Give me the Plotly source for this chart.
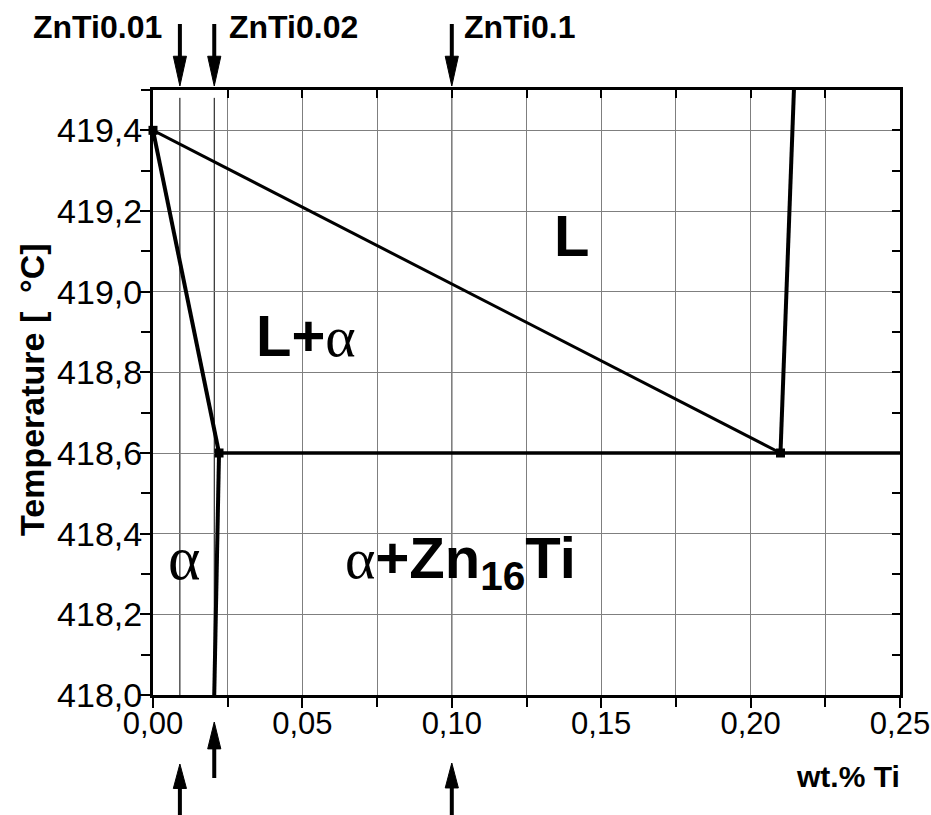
import plotly.graph_objects as go

# Phase boundaries of the Zn-rich corner of the Zn-Ti system (wt.% Ti vs. temperature)
liquidus_x = [0.0, 0.21]
liquidus_t = [419.4, 418.6]

solidus_x = [0.0, 0.0221]
solidus_t = [419.4, 418.6]

solvus_x = [0.0221, 0.0205]
solvus_t = [418.6, 418.0]

eutectic_x = [0.0221, 0.25]
eutectic_t = [418.6, 418.6]

zn16ti_x = [0.21, 0.2145]
zn16ti_t = [418.6, 419.5]

node_x = [0.0, 0.0221, 0.21]
node_t = [419.4, 418.6, 418.6]

# Investigated alloys
sample_names = ["ZnTi0.01", "ZnTi0.02", "ZnTi0.1"]
sample_x = [0.009, 0.0205, 0.1]

x_range = [0.0, 0.25 + 1e-9]
t_range = [418.0, 419.5]

SANS = "Liberation Sans, Arial, sans-serif"
SERIF = "Liberation Serif, Times New Roman, serif"

fig = go.Figure()

fig.add_trace(go.Scatter(x=liquidus_x, y=liquidus_t, mode="lines",
                         line=dict(color="black", width=3), hoverinfo="skip"))
fig.add_trace(go.Scatter(x=solidus_x, y=solidus_t, mode="lines",
                         line=dict(color="black", width=4), hoverinfo="skip"))
fig.add_trace(go.Scatter(x=solvus_x, y=solvus_t, mode="lines",
                         line=dict(color="black", width=4), hoverinfo="skip"))
fig.add_trace(go.Scatter(x=eutectic_x, y=eutectic_t, mode="lines",
                         line=dict(color="black", width=3.5), hoverinfo="skip"))
fig.add_trace(go.Scatter(x=zn16ti_x, y=zn16ti_t, mode="lines",
                         line=dict(color="black", width=4), hoverinfo="skip"))
fig.add_trace(go.Scatter(x=node_x, y=node_t, mode="markers",
                         marker=dict(symbol="square", size=9, color="black"),
                         cliponaxis=False, hoverinfo="skip"))
# second subplot sharing the same frame: carries the top and right axes (inward ticks)
fig.add_trace(go.Scatter(x=eutectic_x, y=eutectic_t, mode="markers", xaxis="x2", yaxis="y2",
                         marker=dict(size=1, opacity=0), hoverinfo="skip"))

grid = "#7f7f7f"
fig.update_layout(
    width=931, height=815,
    margin=dict(l=153, r=31, t=90, b=120, autoexpand=False),
    paper_bgcolor="white", plot_bgcolor="rgba(0,0,0,0)",
    showlegend=False,
    separators=", ",
    xaxis=dict(range=x_range, dtick=0.05, tick0=0, tickformat=".2f",
               domain=[0, 1], anchor="y", automargin=False,
               showgrid=True, gridcolor=grid, gridwidth=1, zeroline=False,
               showline=True, linecolor="black", linewidth=3, mirror=True,
               ticks="outside", ticklen=10, tickwidth=2, tickcolor="black",
               ticklabelstandoff=-11, ticklabeloverflow="allow",
               minor=dict(dtick=0.025, ticks="outside", ticklen=9, tickwidth=2,
                          tickcolor="black", showgrid=True, gridcolor=grid, gridwidth=1),
               tickfont=dict(family=SANS, size=31, color="black")),
    yaxis=dict(range=t_range, dtick=0.2, tick0=418.0, tickformat=".1f",
               domain=[0, 1], anchor="x", automargin=False,
               showgrid=True, gridcolor=grid, gridwidth=1, zeroline=False,
               showline=True, linecolor="black", linewidth=3, mirror=True,
               ticks="outside", ticklen=10, tickwidth=2, tickcolor="black",
               ticklabelstandoff=-9, ticklabeloverflow="allow",
               minor=dict(dtick=0.1, ticks="outside", ticklen=9, tickwidth=2,
                          tickcolor="black", showgrid=False),
               tickfont=dict(family=SANS, size=34, color="black")),
    xaxis2=dict(range=x_range, domain=[0, 1], side="top", anchor="y2", automargin=False,
                tickmode="linear", dtick=0.025, tick0=0, ticks="inside", ticklen=8,
                tickwidth=2, tickcolor="black", showticklabels=False, showgrid=False,
                zeroline=False, showline=False),
    yaxis2=dict(range=t_range, domain=[0, 1], side="right", anchor="x2", automargin=False,
                tickmode="linear", dtick=0.1, tick0=418.0, ticks="inside", ticklen=8,
                tickwidth=2, tickcolor="black", showticklabels=False, showgrid=False,
                zeroline=False, showline=False),
)

# thin composition lines of the investigated alloys
for sx in sample_x:
    fig.add_shape(type="line", xref="x", yref="paper", x0=sx, x1=sx, y0=0, y1=0.987,
                  line=dict(color="black", width=1), layer="below")


def py(ypx):
    return (695 - ypx) / 605.0


def px(xpx):
    return (xpx - 153) / 747.0


# arrows marking the alloys above and below the frame
def arrow(x, tail, tip, width=0.0022):
    fig.add_shape(type="line", xref="x", yref="paper", x0=x, x1=x, y0=tail,
                  y1=tip + (tail - tip) * 0.45, line=dict(color="black", width=4))
    base = tip + (tail - tip) * 0.48
    fig.add_shape(type="path", xref="x", yref="paper",
                  path=f"M {x - width} {base} L {x + width} {base} L {x} {tip} Z",
                  fillcolor="black", line=dict(color="black", width=1))


for sx in sample_x:
    arrow(sx, py(24), py(86))
arrow(sample_x[0], py(815), py(764))
arrow(sample_x[1], py(778), py(722))
arrow(sample_x[2], py(815), py(763))

label_px = [97, 293, 519]
for name, lx in zip(sample_names, label_px):
    fig.add_annotation(text=f"<b>{name}</b>", xref="paper", yref="paper",
                       x=px(lx), y=py(27), xanchor="center", yanchor="middle",
                       showarrow=False, font=dict(family=SANS, size=32, color="black"))

# phase region labels
fig.add_annotation(text="<b>L</b>", x=0.1402, y=419.14, showarrow=False,
                   xanchor="center", yanchor="middle",
                   font=dict(family=SANS, size=58, color="black"))
fig.add_annotation(text="<b>L+</b><span style=\"font-family:Liberation Serif\">α</span>",
                   x=0.0512, y=418.89, showarrow=False, xanchor="center", yanchor="middle",
                   font=dict(family=SANS, size=58, color="black"))
fig.add_annotation(text="α", x=0.0104, y=418.34, showarrow=False,
                   xanchor="center", yanchor="middle",
                   font=dict(family=SERIF, size=62, color="black"))
fig.add_annotation(text="<span style=\"font-family:Liberation Serif\">α</span><b>+Zn<sub>16</sub>Ti</b>",
                   x=0.103, y=418.33, showarrow=False, xanchor="center", yanchor="middle",
                   font=dict(family=SANS, size=58, color="black"))

# axis titles
fig.add_annotation(text="<b>Temperature [  °C]</b>", xref="paper", yref="paper",
                   x=px(32), y=py(390), textangle=-90, showarrow=False,
                   xanchor="center", yanchor="middle",
                   font=dict(family=SANS, size=34, color="black"))
fig.add_annotation(text="<b>wt.% Ti</b>", xref="paper", yref="paper",
                   x=px(848), y=py(777), showarrow=False,
                   xanchor="center", yanchor="middle",
                   font=dict(family=SANS, size=30, color="black"))

fig.write_html("out.html")
